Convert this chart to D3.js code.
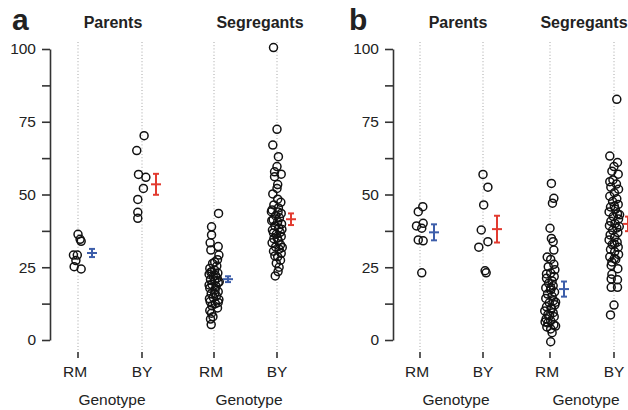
<!DOCTYPE html>
<html>
<head>
<meta charset="utf-8">
<script src="https://cdn.jsdelivr.net/npm/d3@7"></script>
<style>
  body { margin: 0; background: #fff; }
  svg { display: block; font-family: "Liberation Sans", Arial, sans-serif; }
</style>
</head>
<body>
<div id="chart"></div>
<script>
// ---- data: [value, jitter(-1..1)] ----
const genotypes = ["RM", "BY"];
const groupNames = ["Parents", "Segregants"];
const yTicks = [0, 12.5, 25, 37.5, 50, 62.5, 75, 87.5, 100];

const aParentsRM = [[36.3,0],[34.6,0.3],[33.9,0.45],[29.2,-0.65],[29.2,-0.1],[27.3,-0.3],[25.2,-0.55],[24.4,0.45]];
const aParentsBY = [[70.2,0.3],[65.1,-0.75],[56.9,-0.5],[55.9,0.55],[52.1,0.2],[48.3,-0.6],[43.9,-0.6],[41.8,-0.6]];
const aSegRM = [[43.5,0.65],[38.9,-0.35],[36.1,-0.35],[33.4,-0.55],[32.1,0.6],[30.9,-0.45],[29.2,0.7],[27.6,0.5],[26.3,-0.2],[25.4,0.4],[24.6,-0.6],[24.0,0.1],[23.5,-0.3],[23.0,0.55],[22.6,-0.7],[22.2,0.2],[21.8,-0.1],[21.3,0.45],[20.8,-0.5],[20.3,0.1],[19.7,0.6],[19.1,-0.3],[18.4,0.3],[17.8,-0.6],[17.2,0.15],[16.6,0.6],[15.9,-0.4],[15.2,0.35],[14.6,-0.1],[13.9,0.7],[13.2,-0.55],[12.5,0.2],[11.8,-0.3],[11.0,0.5],[10.1,-0.6],[9.2,-0.35],[8.0,-0.15],[7.2,-0.5],[5.3,-0.4],[26.8,0.1],[23.3,-0.45],[20.0,0.75],[18.9,-0.7],[16.0,0.1],[14.2,-0.65],[12.9,0.6]];
const aSegBY = [[100.5,-0.5],[72.4,0],[67.0,-0.6],[63.0,0.2],[59.6,0],[57.8,-0.35],[57.0,0.6],[56.1,-0.35],[53.4,0.1],[52.1,0],[50.2,-0.6],[48.4,0.1],[47.3,0.55],[46.4,-0.45],[45.4,0.2],[44.7,-0.7],[44.1,-0.8],[43.5,0.6],[42.7,-0.2],[42.0,0.35],[41.3,-0.55],[40.6,0.1],[39.9,0.65],[39.2,-0.3],[38.5,0.25],[37.8,-0.65],[37.0,0.45],[36.3,-0.1],[35.6,0.6],[34.8,-0.45],[34.1,0.2],[33.4,-0.7],[32.7,0.5],[32.0,-0.2],[31.2,0.3],[30.5,-0.5],[29.8,0.6],[28.9,-0.3],[28.6,0.1],[27.4,0.5],[26.4,-0.1],[25.0,0.3],[23.5,0.15],[22.0,-0.25],[41.0,-0.75],[38.0,0.7],[35.0,0.05],[44.0,0.15],[31.8,0.75],[36.8,-0.5]];

const bParentsRM = [[45.8,0.4],[44.1,-0.25],[40.1,0.45],[39.2,-0.5],[38.4,0.25],[34.4,-0.25],[34.1,0.45],[23.1,0.25]];
const bParentsBY = [[56.9,0],[52.5,0.7],[46.4,0.1],[37.8,-0.25],[33.8,0.7],[31.9,-0.6],[23.8,0.3],[23.1,0.45]];
const bSegRM = [[53.8,0.2],[48.7,0.55],[47.0,0.35],[38.4,0],[34.9,0.2],[33.8,0.45],[30.9,0.55],[28.5,-0.4],[27.7,0.1],[26.0,0.55],[25.2,-0.25],[24.1,0.7],[23.0,0.1],[22.7,-0.5],[21.8,0.6],[21.2,-0.5],[20.3,0.3],[19.5,-0.2],[18.6,0.45],[17.9,-0.6],[17.2,0.1],[16.5,0.65],[15.8,-0.35],[15.0,0.3],[14.3,-0.6],[13.5,0.5],[12.8,-0.1],[12.1,0.7],[11.4,-0.5],[10.7,0.2],[10.0,-0.75],[9.4,0.45],[8.7,-0.3],[8.0,0.6],[7.3,-0.55],[6.6,0.1],[5.9,-0.3],[5.2,0.55],[4.5,-0.45],[3.8,0.1],[2.5,0.3],[-0.6,0.1],[11.0,0.15],[8.4,-0.05],[6.2,-0.7],[4.8,0.8],[18.0,0.1],[13.0,0.8]];
const bSegBY = [[82.7,0.4],[63.2,-0.6],[61.0,0.5],[59.6,0],[58.0,-0.3],[57.0,0.6],[55.0,-0.15],[54.4,-0.6],[53.6,0.35],[52.5,-0.45],[51.8,0.65],[50.6,0.05],[49.4,-0.6],[48.5,0.4],[47.6,-0.2],[46.6,0.6],[45.7,-0.5],[44.9,0.2],[44.0,-0.7],[43.3,0.5],[42.4,-0.1],[41.6,0.65],[40.8,-0.45],[40.0,0.15],[39.3,-0.65],[38.5,0.4],[37.7,-0.2],[36.9,0.55],[36.1,-0.55],[35.3,0.1],[34.4,-0.7],[33.6,0.45],[32.8,-0.25],[31.9,0.6],[31.1,-0.5],[30.3,0.1],[29.4,0.65],[28.6,-0.6],[27.7,0.25],[26.8,-0.3],[25.6,-0.4],[24.5,0.55],[22.6,-0.3],[21.0,-0.4],[20.7,0.5],[18.1,-0.4],[18.1,0.5],[12.0,0],[8.6,-0.5],[46.0,0.05],[39.0,0.75],[33.0,0.05],[43.0,0.8],[28.0,0.05]];

// mean and standard error for each column [RM, BY]
const aParentsMean = [29.9, 53.5], aParentsSE = [1.4, 3.6];
const aSegMean = [20.9, 41.5], aSegSE = [1.0, 2.0];
const bParentsMean = [37.0, 38.1], bParentsSE = [2.75, 4.6];
const bSegMean = [17.5, 39.9], bSegSE = [2.6, 2.5];

// ---- layout ----
const width = 628, height = 410;
const svg = d3.select("#chart").append("svg")
  .attr("width", width).attr("height", height);

const y = d3.scaleLinear().domain([0, 100]).range([340, 49]);
const jitter = d3.scaleLinear().domain([-1, 1]).range([-7, 7]);
const meanColor = { RM: "#3d5eaa", BY: "#e23b30" };

const panels = [
  { letter: "a", letterX: 12, axisX: 50,
    groups: [
      { name: "Parents", range: [78, 142], titleX: 113, genoX: 112,
        pts: [aParentsRM, aParentsBY], mean: aParentsMean, se: aParentsSE },
      { name: "Segregants", range: [214, 277], titleX: 260, genoX: 249,
        pts: [aSegRM, aSegBY], mean: aSegMean, se: aSegSE }
    ] },
  { letter: "b", letterX: 349, axisX: 393,
    groups: [
      { name: "Parents", range: [420, 483], titleX: 458, genoX: 456,
        pts: [bParentsRM, bParentsBY], mean: bParentsMean, se: bParentsSE },
      { name: "Segregants", range: [550, 614], titleX: 584, genoX: 586,
        pts: [bSegRM, bSegBY], mean: bSegMean, se: bSegSE }
    ] }
];

panels.forEach(p => {
  // panel letter
  svg.append("text")
    .attr("x", p.letterX).attr("y", 30)
    .style("font-size", "30px").style("font-weight", "bold")
    .attr("fill", "#222")
    .text(p.letter);

  // y axis
  const axis = svg.append("g")
    .attr("transform", `translate(${p.axisX},0)`)
    .call(d3.axisLeft(y).tickValues(yTicks).tickSize(8).tickSizeOuter(0).tickPadding(6)
      .tickFormat(d => d % 25 === 0 ? d : ""));
  axis.select(".domain").attr("stroke", "#333").attr("stroke-width", 1.6);
  axis.selectAll(".tick line").attr("stroke", "#333").attr("stroke-width", 1.6);
  axis.selectAll(".tick text")
    .attr("fill", "#222")
    .style("font-size", "15.5px")
    .style("font-family", "'Liberation Sans', Arial, sans-serif");

  p.groups.forEach(g => {
    const x = d3.scalePoint().domain(genotypes).range(g.range);

    // group title
    svg.append("text")
      .attr("x", g.titleX).attr("y", 28)
      .attr("text-anchor", "middle")
      .style("font-size", "16px").style("font-weight", "bold")
      .attr("fill", "#222")
      .text(g.name);

    // dotted guide lines
    svg.selectAll(null).data(genotypes).join("line")
      .attr("x1", d => x(d)).attr("x2", d => x(d))
      .attr("y1", 42).attr("y2", 350)
      .attr("stroke", "#a5a5a5").attr("stroke-width", 1)
      .attr("stroke-dasharray", "1,2.2");

    // x ticks + labels
    svg.selectAll(null).data(genotypes).join("line")
      .attr("x1", d => x(d)).attr("x2", d => x(d))
      .attr("y1", 352).attr("y2", 358)
      .attr("stroke", "#333").attr("stroke-width", 1.6);
    svg.selectAll(null).data(genotypes).join("text")
      .attr("x", d => x(d) - (d === "RM" ? 3 : 0)).attr("y", 377)
      .attr("text-anchor", "middle")
      .style("font-size", "15.5px")
      .attr("fill", "#222")
      .text(d => d);

    svg.append("text")
      .attr("x", g.genoX).attr("y", 405)
      .attr("text-anchor", "middle")
      .style("font-size", "15.5px")
      .attr("fill", "#222")
      .text("Genotype");

    // points
    genotypes.forEach((geno, i) => {
      svg.append("g").selectAll("circle")
        .data(g.pts[i])
        .join("circle")
        .attr("cx", d => x(geno) + jitter(d[1]))
        .attr("cy", d => y(d[0]))
        .attr("r", 4)
        .attr("fill", "none")
        .attr("stroke", "#111")
        .attr("stroke-width", 1.5);

      // mean +/- SE
      const mx = x(geno) + 14;
      const m = g.mean[i], s = g.se[i];
      const eb = svg.append("g")
        .attr("stroke", meanColor[geno]).attr("stroke-width", 2);
      eb.append("line").attr("x1", mx).attr("x2", mx)
        .attr("y1", y(m - s)).attr("y2", y(m + s));
      eb.append("line").attr("x1", mx - 3).attr("x2", mx + 3)
        .attr("y1", y(m + s)).attr("y2", y(m + s));
      eb.append("line").attr("x1", mx - 3).attr("x2", mx + 3)
        .attr("y1", y(m - s)).attr("y2", y(m - s));
      eb.append("line").attr("x1", mx - 5).attr("x2", mx + 5)
        .attr("y1", y(m)).attr("y2", y(m));
    });
  });
});
</script>
</body>
</html>
